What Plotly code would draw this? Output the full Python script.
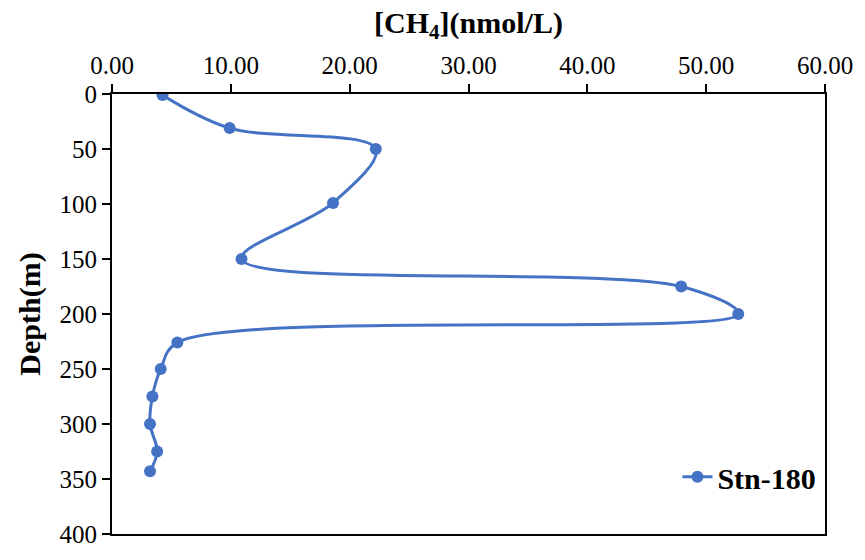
import plotly.graph_objects as go

ch4 = [4.25, 9.9, 22.2, 18.6, 10.9, 47.9, 52.7, 5.5, 4.1, 3.4, 3.2, 3.8, 3.2]
depth = [1, 31, 50, 99, 150, 175, 200, 226, 250, 275, 300, 325, 343]
series_name = "Stn-180"
x_ticks = [0, 10, 20, 30, 40, 50, 60]
y_ticks = [0, 50, 100, 150, 200, 250, 300, 350, 400]

blue = "#4472C4"
font_family = "Liberation Serif"

fig = go.Figure()
fig.add_trace(go.Scatter(
    x=ch4, y=depth, mode="lines+markers", name=series_name,
    line=dict(color=blue, width=3, shape="spline", smoothing=1.0),
    marker=dict(color=blue, size=12),
))

fig.update_layout(
    width=865, height=560,
    margin=dict(l=112, r=30, t=94, b=15),
    paper_bgcolor="white", plot_bgcolor="white",
    font=dict(family=font_family, color="black", size=25),
    showlegend=True,
    legend=dict(x=0.995, y=0.13, xanchor="right", yanchor="middle",
                font=dict(size=30, family=font_family, color="black", weight="bold"),
                bgcolor="rgba(0,0,0,0)"),
)
fig.update_xaxes(
    side="top", range=[0, 60], tickvals=x_ticks,
    ticktext=[f"{v:.2f}" for v in x_ticks],
    ticks="outside", ticklen=8, tickwidth=2, tickcolor="black",
    showline=True, linewidth=2, linecolor="black", mirror=True,
    showgrid=False, zeroline=False,
    tickfont=dict(size=25, family=font_family),
    title=dict(text="<b>[CH<sub>4</sub>](nmol/L)</b>", font=dict(size=30, family=font_family), standoff=10),
)
fig.update_yaxes(
    range=[400, 0], tickvals=y_ticks,
    ticks="outside", ticklen=8, tickwidth=2, tickcolor="black",
    showline=True, linewidth=2, linecolor="black", mirror=True,
    showgrid=False, zeroline=False,
    tickfont=dict(size=25, family=font_family),
    title=dict(text="<b>Depth(m)</b>", font=dict(size=30, family=font_family), standoff=10),
)

fig.write_html("out.html")
